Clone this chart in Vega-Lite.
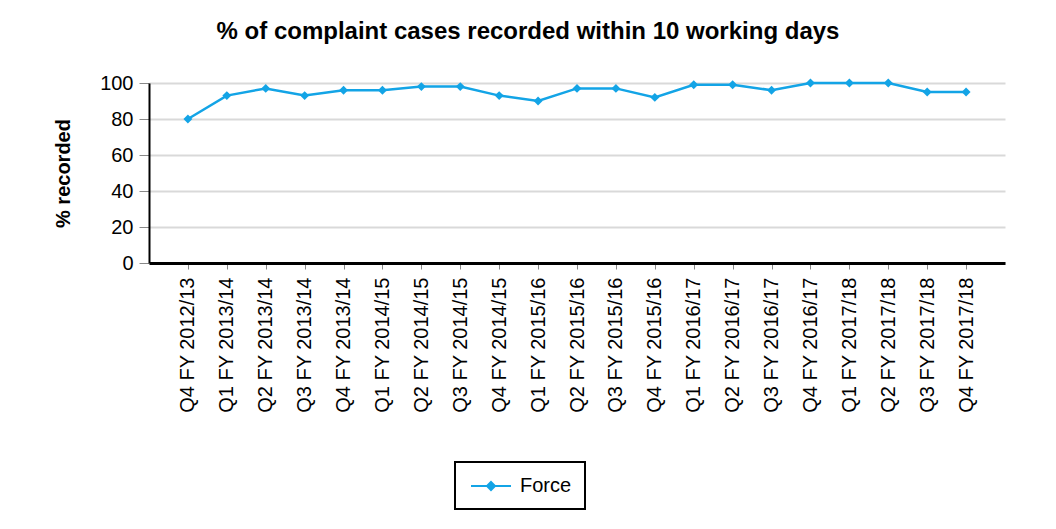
{
  "$schema": "https://vega.github.io/schema/vega-lite/v6.json",
  "width": 856,
  "height": 180,
  "autosize": {"type": "none"},
  "padding": {"left": 149, "top": 83, "right": 51, "bottom": 266},
  "background": "white",
  "title": {
    "text": "% of complaint cases recorded within 10 working days",
    "font": "Liberation Sans",
    "fontSize": 24,
    "fontWeight": "bold",
    "color": "black",
    "anchor": "middle",
    "dx": -49,
    "offset": 29
  },
  "data": {
    "values": [
      {"quarter": "Q4 FY 2012/13", "pct": 80, "series": "Force"},
      {"quarter": "Q1 FY 2013/14", "pct": 93, "series": "Force"},
      {"quarter": "Q2 FY 2013/14", "pct": 97, "series": "Force"},
      {"quarter": "Q3 FY 2013/14", "pct": 93, "series": "Force"},
      {"quarter": "Q4 FY 2013/14", "pct": 96, "series": "Force"},
      {"quarter": "Q1 FY 2014/15", "pct": 96, "series": "Force"},
      {"quarter": "Q2 FY 2014/15", "pct": 98, "series": "Force"},
      {"quarter": "Q3 FY 2014/15", "pct": 98, "series": "Force"},
      {"quarter": "Q4 FY 2014/15", "pct": 93, "series": "Force"},
      {"quarter": "Q1 FY 2015/16", "pct": 90, "series": "Force"},
      {"quarter": "Q2 FY 2015/16", "pct": 97, "series": "Force"},
      {"quarter": "Q3 FY 2015/16", "pct": 97, "series": "Force"},
      {"quarter": "Q4 FY 2015/16", "pct": 92, "series": "Force"},
      {"quarter": "Q1 FY 2016/17", "pct": 99, "series": "Force"},
      {"quarter": "Q2 FY 2016/17", "pct": 99, "series": "Force"},
      {"quarter": "Q3 FY 2016/17", "pct": 96, "series": "Force"},
      {"quarter": "Q4 FY 2016/17", "pct": 100, "series": "Force"},
      {"quarter": "Q1 FY 2017/18", "pct": 100, "series": "Force"},
      {"quarter": "Q2 FY 2017/18", "pct": 100, "series": "Force"},
      {"quarter": "Q3 FY 2017/18", "pct": 95, "series": "Force"},
      {"quarter": "Q4 FY 2017/18", "pct": 95, "series": "Force"}
    ]
  },
  "mark": {
    "type": "line",
    "strokeWidth": 2.5,
    "point": {"shape": "diamond", "filled": true, "size": 80}
  },
  "encoding": {
    "x": {
      "field": "quarter",
      "type": "nominal",
      "sort": null,
      "scale": {"type": "point", "padding": 1},
      "axis": {
        "title": null,
        "labelAngle": -90,
        "labelAlign": "right",
        "labelBaseline": "middle",
        "labelFont": "Liberation Sans",
        "labelFontSize": 20,
        "labelColor": "black",
        "labelPadding": 8,
        "tickColor": "#888888",
        "tickSize": 6,
        "domainColor": "black",
        "domainWidth": 3,
        "grid": false
      }
    },
    "y": {
      "field": "pct",
      "type": "quantitative",
      "scale": {"domain": [0, 100]},
      "axis": {
        "title": "% recorded",
        "titleFont": "Liberation Sans",
        "titleFontSize": 20,
        "titleFontWeight": "bold",
        "titleColor": "black",
        "titlePadding": 26,
        "values": [0, 20, 40, 60, 80, 100],
        "labelFont": "Liberation Sans",
        "labelFontSize": 20,
        "labelColor": "black",
        "labelPadding": 6,
        "tickColor": "#888888",
        "tickSize": 10,
        "domainColor": "black",
        "domainWidth": 2,
        "gridColor": "#d9d9d9",
        "gridWidth": 2
      }
    },
    "color": {
      "field": "series",
      "type": "nominal",
      "scale": {"range": ["#13a4e6"]},
      "legend": {
        "title": null,
        "orient": "none",
        "legendX": 306,
        "legendY": 379,
        "strokeColor": "black",
        "padding": 13,
        "labelFont": "Liberation Sans",
        "labelFontSize": 20,
        "labelColor": "black",
        "labelOffset": 18,
        "symbolType": "M-2,0H2M0,-0.4L0.4,0L0,0.4L-0.4,0Z",
        "symbolSize": 400,
        "symbolOffset": 12,
        "symbolStrokeWidth": 2,
        "symbolFillColor": "#13a4e6"
      }
    }
  },
  "config": {
    "view": {"stroke": null},
    "legend": {"strokeWidth": 2}
  }
}
